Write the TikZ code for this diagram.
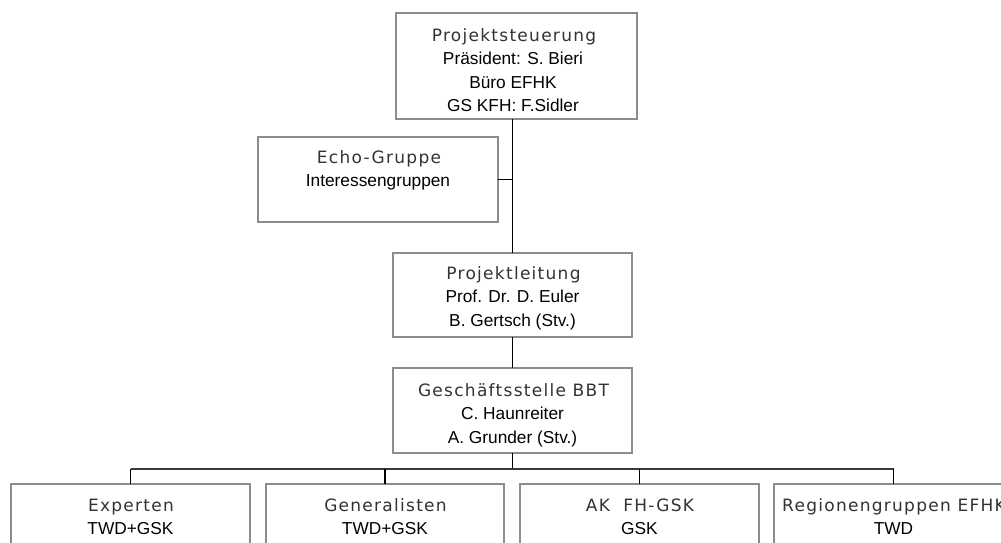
\documentclass[tikz,border=0pt]{standalone}
\usepackage{fontspec}
\setmainfont{Liberation Sans}
\newfontfamily\ttlfont[LetterSpace=7.5]{DejaVu Sans}
\definecolor{boxgray}{HTML}{8C8C8C}
\definecolor{busgray}{HTML}{3A3A3A}
\begin{document}
\begin{tikzpicture}[x=1pt,y=-1pt,
  box/.style={draw=boxgray, line width=1.4pt, inner sep=0pt, outer sep=0pt},
  ttl/.style={anchor=base, inner sep=0pt, font=\ttlfont\fontsize{17}{20}\selectfont, text=black!80},
  txt/.style={anchor=base, inner sep=0pt, font=\fontsize{17.3}{20}\selectfont, text=black},
  conn/.style={line width=1.3pt, draw=black},
  bus/.style={line width=1.5pt, draw=busgray}]
\clip (0,0) rectangle (1001,542);
\fill[white] (0,0) rectangle (1001,542);
% boxes
\node[box, minimum width=241pt, minimum height=106pt] (ps) at (516.5,66) {};
\node[box, minimum width=240pt, minimum height=85pt] (echo) at (378,179.5) {};
\node[box, minimum width=239pt, minimum height=84pt] (pl) at (512.5,295) {};
\node[box, minimum width=239pt, minimum height=85pt] (gs) at (512.5,410.5) {};
\node[box, minimum width=239pt, minimum height=116pt] (exp) at (130.5,542) {};
\node[box, minimum width=238pt, minimum height=116pt] (gen) at (385,542) {};
\node[box, minimum width=239pt, minimum height=116pt] (ak) at (639.5,542) {};
\node[box, minimum width=239pt, minimum height=116pt] (reg) at (893.5,542) {};
% texts
\node[ttl] (ps1) at (514,41.5) {Projektsteuerung};
\node[txt] (ps2) at (513,64.5) {Präsident: S. Bieri};
\node[txt] (ps3) at (513,88) {Büro EFHK};
\node[txt] (ps4) at (513,111.5) {GS KFH: F.Sidler};
\node[ttl] (ec1) at (379,163) {Echo-Gruppe};
\node[txt] (ec2) at (378,186) {Interessengruppen};
\node[ttl] (pl1) at (513.5,279.5) {Projektleitung};
\node[txt] (pl2) at (512.5,302.5) {Prof. Dr. D. Euler};
\node[txt] (pl3) at (512.5,326) {B. Gertsch (Stv.)};
\node[ttl] (gs1) at (513.5,396.5) {Geschäftsstelle BBT};
\node[txt] (gs2) at (512.5,419.5) {C. Haunreiter};
\node[txt] (gs3) at (512.5,443) {A. Grunder (Stv.)};
\node[ttl] (ex1) at (131,511.5) {Experten};
\node[txt] (ex2) at (130.5,534.5) {TWD+GSK};
\node[ttl] (ge1) at (385.5,511.5) {Generalisten};
\node[txt] (ge2) at (385,534.5) {TWD+GSK};
\node[ttl] (ak1) at (640,511.5) {AK\ \ FH-GSK};
\node[txt] (ak2) at (639.5,534.5) {GSK};
\node[ttl] (rg1) at (894,511.5) {Regionengruppen EFHK};
\node[txt] (rg2) at (893.5,534.5) {TWD};
% connectors
\coordinate (pstop) at (ps.south -| pl.north);
\coordinate (ej) at (echo.east -| pl.north);
\coordinate (busC) at (gs.south |- 0,469);
\draw[conn] (pstop) -- (pl.north);
\draw[conn] (echo.east) -- (ej);
\draw[conn] (pl.south) -- (gs.south |- gs.north);
\draw[conn] (gs.south) -- (busC);
\coordinate (bexp) at (exp.north |- busC);
\coordinate (bgen) at (gen.north |- busC);
\coordinate (bak) at (ak.north |- busC);
\coordinate (breg) at (reg.north |- busC);
\draw[bus] (bexp) -- (breg);
\draw[conn] (bexp) -- (exp.north);
\draw[conn] (bgen) -- (gen.north);
\draw[conn] (bak) -- (ak.north);
\draw[conn] (breg) -- (reg.north);
\end{tikzpicture}
\end{document}
